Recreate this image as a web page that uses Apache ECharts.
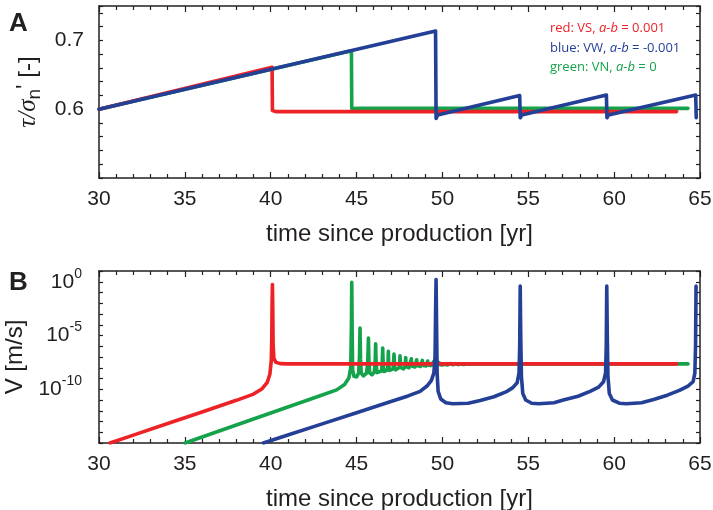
<!DOCTYPE html>
<html>
<head>
<meta charset="utf-8">
<title>Shear stress ratio and slip velocity since production</title>
<script src="https://cdn.jsdelivr.net/npm/echarts@6/dist/echarts.min.js"></script>
<style>
  html, body { margin: 0; padding: 0; background: #fff; }
  #chart { width: 713px; height: 510px; }
</style>
</head>
<body>
<div id="chart"></div>
<script>
// Time axis (years since production)
const timeMin = 30;
const timeMax = 65;
const timeTicks = [30, 35, 40, 45, 50, 55, 60, 65];

// Panel A: shear-to-effective-normal stress ratio, [time, tau/sigma_n']
const redTau = [[30, 0.6], [40.08, 0.661], [40.1, 0.598], [40.3, 0.5965], [63.64, 0.5965]];
const greenTau = [[30, 0.6], [44.7, 0.685], [44.72, 0.601], [45.2, 0.6012], [64.3, 0.6012]];
const blueTau = [
  [30, 0.6], [49.6, 0.7137], [49.63, 0.5865], [49.72, 0.5915],
  [54.5, 0.6198], [54.53, 0.5875], [54.62, 0.5915],
  [59.55, 0.6205], [59.58, 0.5875], [59.67, 0.5915],
  [64.75, 0.6205], [64.78, 0.5875]
];
const tauLabels = [0.6, 0.7];

// Panel B: slip velocity, [time, log10 V (m/s)]
const redLogV = [
  [30.64, -15], [32, -14.27], [34, -13.19], [36, -12.11], [38, -11.03], [39, -10.45],
  [39.5, -9.95], [39.8, -9.35], [39.95, -8.6], [40.03, -7.4], [40.06, -5.5], [40.08, -2],
  [40.1, -0.25], [40.12, -2.5], [40.14, -5.8], [40.18, -7.1], [40.3, -7.5], [40.6, -7.62],
  [41, -7.64], [63.64, -7.64]
];
const greenLogV = [
  [35.01, -15], [37, -13.88], [39, -12.77], [41, -11.65], [43, -10.53], [43.84, -10.06],
  [44.3, -9.55], [44.55, -8.95], [44.66, -8], [44.7, -4], [44.72, -0.04], [44.745, -5],
  [44.77, -8.2], [44.85, -8.8], [45.0, -8.85], [45.12, -8.5], [45.17, -7], [45.2, -4.3],
  [45.23, -7.2], [45.27, -8.5], [45.4, -8.75], [45.58, -8.5], [45.65, -7.5], [45.69, -5.23],
  [45.72, -7.5], [45.77, -8.5], [45.9, -8.65], [46.03, -8.4], [46.08, -7.6], [46.11, -5.77],
  [46.14, -7.6], [46.19, -8.45], [46.3, -8.55], [46.45, -8.3], [46.49, -7.7], [46.52, -6.17],
  [46.55, -7.7], [46.6, -8.35], [46.7, -8.4], [46.8, -8.2], [46.83, -7.7], [46.85, -6.48],
  [46.87, -7.7], [46.92, -8.25], [47.03, -8.3], [47.13, -8.1], [47.18, -6.73], [47.22, -8.0],
  [47.28, -8.2], [47.38, -8.2], [47.5, -7.95], [47.53, -6.89], [47.56, -7.95], [47.62, -8.1],
  [47.73, -8.1], [47.83, -7.9], [47.86, -7.04], [47.89, -7.9], [47.95, -8.0], [48.05, -8.0],
  [48.16, -7.85], [48.19, -7.17], [48.22, -7.85], [48.3, -7.95], [48.4, -7.93], [48.47, -7.8],
  [48.5, -7.26], [48.53, -7.8], [48.6, -7.9], [48.72, -7.88], [48.8, -7.78], [48.83, -7.32],
  [48.86, -7.78], [48.95, -7.85], [49.05, -7.83], [49.11, -7.75], [49.14, -7.38], [49.17, -7.75],
  [49.3, -7.8], [49.44, -7.72], [49.47, -7.45], [49.5, -7.72], [49.63, -7.78], [49.77, -7.7],
  [49.8, -7.51], [49.83, -7.7], [49.97, -7.75], [50.1, -7.68], [50.13, -7.55], [50.16, -7.68],
  [50.3, -7.73], [50.44, -7.6], [50.6, -7.72], [50.77, -7.62], [50.92, -7.71], [51.08, -7.64],
  [51.25, -7.69], [51.41, -7.63], [51.6, -7.67], [52, -7.64], [64.3, -7.64]
];
const blueLogV = [
  [39.57, -15], [41, -14.26], [43, -13.22], [45, -12.18], [47, -11.14], [48, -10.62],
  [48.7, -10.2], [49.1, -9.7], [49.35, -9.2], [49.5, -8.5], [49.57, -7], [49.6, -3],
  [49.63, 0.2], [49.66, -4], [49.69, -8.5], [49.75, -10.2], [49.9, -10.9], [50.2, -11.25],
  [50.6, -11.35], [51.5, -11.3], [52.2, -11.05], [53, -10.7], [53.7, -10.25], [54.1, -9.85],
  [54.35, -9.4], [54.46, -8.5], [54.5, -6], [54.53, -0.41], [54.56, -5], [54.6, -8.8],
  [54.68, -10.4], [54.85, -11.0], [55.2, -11.3], [55.6, -11.35], [56.5, -11.25], [57.04, -11.0],
  [57.9, -10.65], [58.6, -10.2], [59.1, -9.8], [59.38, -9.3], [59.5, -8.5], [59.54, -6],
  [59.57, -0.41], [59.6, -5], [59.64, -8.8], [59.72, -10.4], [59.9, -11.0], [60.3, -11.3],
  [60.7, -11.35], [61.6, -11.25], [62.3, -10.95], [63.1, -10.55], [63.8, -10.1], [64.3, -9.7],
  [64.6, -9.3], [64.7, -8.5], [64.74, -6], [64.77, -0.41]
];
const velocityLabelExponents = [0, -5, -10];

// Legend lines
const legendEntries = [
  { name: 'red: VS, ', param: 'a-b', value: ' = 0.001', color: '#ED2227' },
  { name: 'blue: VW, ', param: 'a-b', value: ' = -0.001', color: '#233F96' },
  { name: 'green: VN, ', param: 'a-b', value: ' = 0', color: '#14A24B' }
];

const RED = '#ED2227', BLUE = '#233F96', GREEN = '#14A24B';
const INK = '#231f20';
const FONT = '"Liberation Sans", Arial, Helvetica, sans-serif';
const LINE_W = 3.6;

const toVelocity = pts => pts.map(([t, e]) => [t, Math.pow(10, e)]);

function frameX(gridIndex, position, withLabels) {
  return {
    type: 'value', gridIndex, position, min: timeMin, max: timeMax, interval: 5,
    axisLine: { show: true, onZero: false, lineStyle: { color: INK, width: 1.5 } },
    axisTick: { show: true, inside: true, length: 6, lineStyle: { color: INK, width: 1.2 } },
    minorTick: { show: true, splitNumber: 5, length: 4, lineStyle: { color: INK, width: 1.2 } },
    splitLine: { show: false },
    axisLabel: withLabels ? {
      show: true, fontSize: 21, color: INK, fontFamily: FONT, margin: 11,
      hideOverlap: false, showMinLabel: true, showMaxLabel: true,
      alignMinLabel: 'center', alignMaxLabel: 'center',
      formatter: v => (timeTicks.includes(Math.round(v)) ? String(Math.round(v)) : '')
    } : { show: false },
    name: withLabels ? 'time since production [yr]' : '',
    nameLocation: 'middle', nameGap: 44,
    nameTextStyle: { fontSize: 24, color: INK, fontFamily: FONT }
  };
}

function tauY(position, withLabels) {
  return {
    type: 'value', gridIndex: 0, position, min: 0.5, max: 0.75, interval: 0.02,
    axisLine: { show: true, onZero: false, lineStyle: { color: INK, width: 1.5 } },
    axisTick: { show: true, inside: true, length: 4, lineStyle: { color: INK, width: 1.2 } },
    splitLine: { show: false },
    axisLabel: withLabels ? {
      show: true, fontSize: 21, color: INK, fontFamily: FONT, margin: 15,
      formatter: v => {
        const hit = tauLabels.find(l => Math.abs(l - v) < 1e-6);
        return hit === undefined ? '' : hit.toFixed(1);
      }
    } : { show: false },
    name: withLabels ? '{g|τ/σ}{n|n}{p|\'}{a| [-]}' : '',
    nameLocation: 'middle', nameGap: 49,
    nameTextStyle: {
      color: INK, fontFamily: FONT,
      rich: {
        g: { fontSize: 25, fontStyle: 'italic', fontFamily: '"Liberation Serif", "DejaVu Serif", serif', color: INK },
        n: { fontSize: 19, padding: [12, 0, 0, 0], fontFamily: FONT, color: INK },
        p: { fontSize: 24, padding: [0, 0, 4, 0], fontFamily: FONT, color: INK },
        a: { fontSize: 24, fontFamily: FONT, color: INK }
      }
    }
  };
}

function velocityY(position, withLabels) {
  return {
    type: 'log', logBase: 10, gridIndex: 1, position, min: 1e-15, max: 10, interval: 1,
    axisLine: { show: true, onZero: false, lineStyle: { color: INK, width: 1.5 } },
    axisTick: { show: true, inside: true, length: 4, lineStyle: { color: INK, width: 1.2 } },
    splitLine: { show: false },
    minorTick: { show: false },
    axisLabel: withLabels ? {
      show: true, color: INK, fontFamily: FONT, margin: 17,
      formatter: v => {
        const e = Math.round(Math.log10(v));
        return velocityLabelExponents.includes(e) ? '{b|10}{s|' + e + '}' : '';
      },
      rich: {
        b: { fontSize: 21, fontFamily: FONT, color: INK },
        s: { fontSize: 14, fontFamily: FONT, color: INK, padding: [0, 0, 16, 0] }
      }
    } : { show: false },
    name: withLabels ? 'V [m/s]' : '',
    nameLocation: 'middle', nameGap: 64,
    nameTextStyle: { fontSize: 24, color: INK, fontFamily: FONT }
  };
}

function line(name, data, color, xAxisIndex, yAxisIndex, z) {
  return {
    name, type: 'line', data, xAxisIndex, yAxisIndex, z,
    showSymbol: false, symbol: 'none', clip: true, animation: false,
    lineStyle: { color, width: LINE_W, cap: 'round', join: 'round' }
  };
}

const chart = echarts.init(document.getElementById('chart'), null, { renderer: 'canvas' });

chart.setOption({
  backgroundColor: '#ffffff',
  animation: false,
  grid: [
    { left: 99, right: 13, top: 6, height: 172, containLabel: false, outerBoundsMode: 'none' },
    { left: 99, right: 13, top: 271, height: 172, containLabel: false, outerBoundsMode: 'none' }
  ],
  xAxis: [
    frameX(0, 'bottom', true),
    frameX(0, 'top', false),
    frameX(1, 'bottom', true),
    frameX(1, 'top', false)
  ],
  yAxis: [
    tauY('left', true),
    tauY('right', false),
    velocityY('left', true),
    velocityY('right', false)
  ],
  series: [
    line('green-tau', greenTau, GREEN, 0, 0, 2),
    line('red-tau', redTau, RED, 0, 0, 3),
    line('blue-tau', blueTau, BLUE, 0, 0, 4),
    line('green-V', toVelocity(greenLogV), GREEN, 2, 2, 2),
    line('red-V', toVelocity(redLogV), RED, 2, 2, 3),
    line('blue-V', toVelocity(blueLogV), BLUE, 2, 2, 4)
  ],
  graphic: [
    { type: 'text', left: 9, top: 11, style: { text: 'A', fontSize: 26, fontWeight: 'bold', fontFamily: FONT, fill: INK } },
    { type: 'text', left: 9, top: 270, style: { text: 'B', fontSize: 26, fontWeight: 'bold', fontFamily: FONT, fill: INK } }
  ].concat(legendEntries.map((e, i) => ({
    type: 'text', left: 550, top: 22 + i * 19.3,
    style: {
      text: '{n|' + e.name + '}{i|' + e.param + '}{n|' + e.value + '}',
      rich: {
        n: { fontSize: 13, fontFamily: '"Open Sans", "Noto Sans", sans-serif', fill: e.color, color: e.color },
        i: { fontSize: 13, fontStyle: 'italic', fontFamily: '"Open Sans", "Noto Sans", sans-serif', fill: e.color, color: e.color }
      }
    }
  })))
});
</script>
</body>
</html>
